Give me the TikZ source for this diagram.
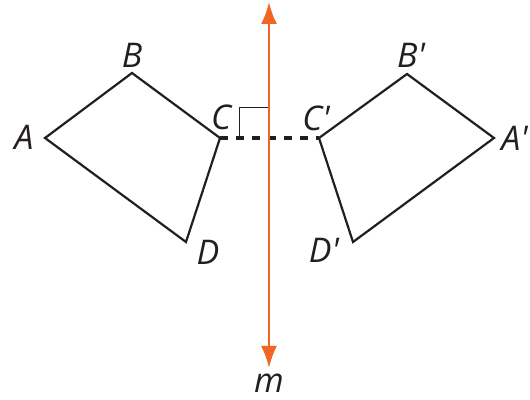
\documentclass[tikz,border=0pt]{standalone}
\usepackage{fontspec}
\setmainfont{Open Sans}
\usetikzlibrary{arrows.meta}
\definecolor{lineBlack}{HTML}{231F20}
\definecolor{mirrorOrange}{HTML}{F26522}

\begin{document}
\begin{tikzpicture}[
    x=0.5pt, y=-0.5pt,
    font=\fontsize{17}{19}\selectfont\itshape,
    vlabel/.style={text=lineBlack, inner sep=0pt},
    quad/.style={draw=lineBlack, line width=1.1pt, line join=miter},
    mirror/.style={draw=mirrorOrange, line width=1.3pt,
                   {Latex[length=11pt,width=8pt]}-{Latex[length=11pt,width=8pt]}},
    perp/.style={draw=lineBlack, line width=0.5pt},
    joinline/.style={draw=lineBlack, line width=1.6pt, dash pattern=on 4pt off 4pt},
  ]
  \useasboundingbox (0,0) rectangle (530,400);

  % Vertices of ABCD and its image
  \coordinate (A) at (45,138);
  \coordinate (B) at (132,73);
  \coordinate (C) at (220,138);
  \coordinate (D) at (186,242);
  \coordinate (Ap) at (494,138);
  \coordinate (Bp) at (407,74);
  \coordinate (Cp) at (319,138);
  \coordinate (Dp) at (353,242);

  % Line m
  \coordinate (mtop) at (269,2);
  \coordinate (mbot) at (269,368);
  \coordinate (foot) at (269,138);

  % Quadrilaterals
  \draw[quad] (A) -- (B) -- (C) -- (D) -- cycle;
  \draw[quad] (Ap) -- (Bp) -- (Cp) -- (Dp) -- cycle;

  % Segment CC' and right angle mark
  \draw[joinline] (C) -- (Cp);
  \draw[perp] ([xshift=-15pt]foot) |- ([yshift=15pt]foot);

  % Mirror line
  \draw[mirror] (mbot) -- (mtop);

  % Labels
  \node[vlabel] (lA) at (24,137) {A};
  \node[vlabel] (lB) at (132,55) {B};
  \node[vlabel] (lC) at (221,117) {C};
  \node[vlabel] (lD) at (208,252) {D};
  \node[vlabel, anchor=west] (lAp) at (501,138) {A\textquotesingle};
  \node[vlabel] (lBp) at (411,55) {B\textquotesingle};
  \node[vlabel] (lCp) at (316,118) {C\textquotesingle};
  \node[vlabel] (lDp) at (324,250) {D\textquotesingle};
  \node[vlabel] (lm) at (269,383) {m};

\end{tikzpicture}
\end{document}
